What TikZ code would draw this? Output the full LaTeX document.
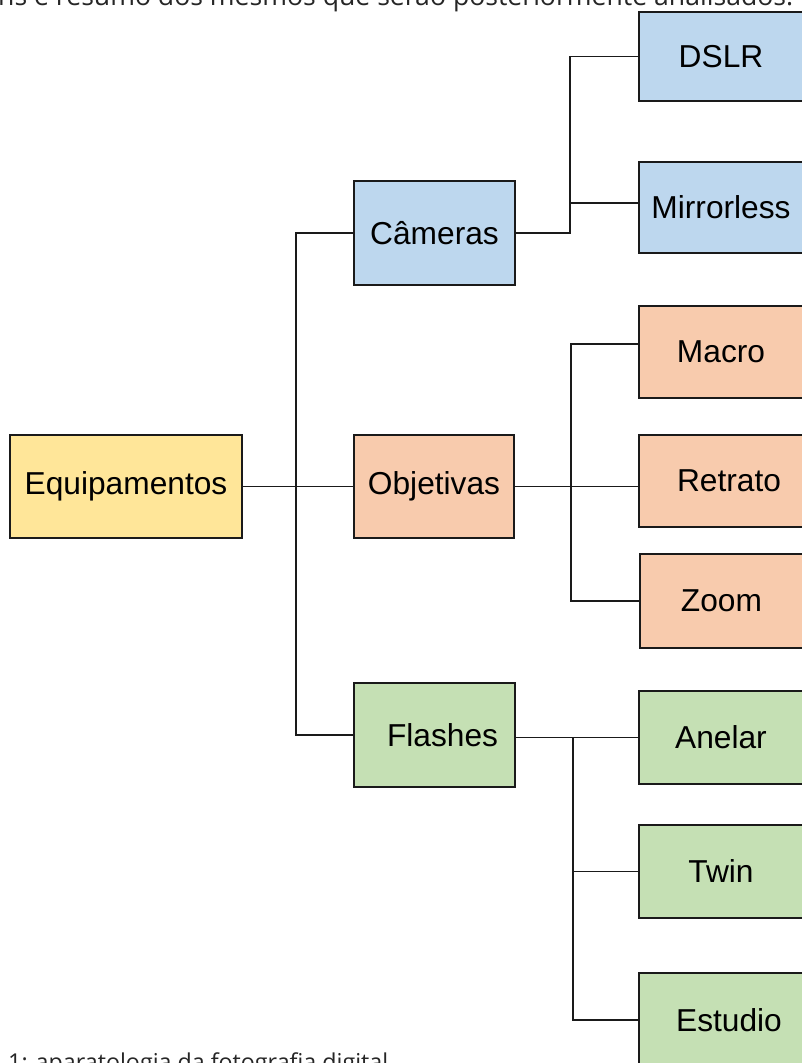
\documentclass[tikz,border=0pt]{standalone}
\usepackage{fontspec}
\setmainfont{Liberation Sans}
\newfontfamily\bodyfont{Open Sans}
\definecolor{cblue}{HTML}{BDD7EE}
\definecolor{corange}{HTML}{F8CBAD}
\definecolor{cgreen}{HTML}{C5E0B4}
\definecolor{cyellow}{HTML}{FFE699}
\definecolor{cline}{HTML}{1A1A1A}
\tikzset{
  box/.style={draw=cline, line width=1.3pt, rectangle, inner sep=0pt,
    font=\fontsize{31.7}{38}\selectfont, text=black},
  leftbox/.style={box, minimum width=161pt, minimum height=104pt},
  rightbox/.style={box, minimum width=164pt},
  conn/.style={draw=cline, line width=1.3pt},
}
\begin{document}
\begin{tikzpicture}[x=1pt,y=-1pt]
\useasboundingbox (0,0) rectangle (802,1063);
\clip (0,0) rectangle (802,1063);
\fill[white] (0,0) rectangle (802,1063);

% clipped body text
\node[anchor=base west, inner sep=0pt, text=black!85] (toptext) at (-2,5)
  {\resizebox{795pt}{!}{\bodyfont ns e resumo dos mesmos que serão posteriormente analisados.}};
\node[anchor=base west, inner sep=0pt, text=black!85] (bottext) at (8,1070)
  {\resizebox{380pt}{!}{\bodyfont 1: aparatologia da fotografia digital}};

% boxes
\node[box, fill=cyellow, minimum width=232pt, minimum height=103pt] (eq) at (126,486.5) {\raisebox{-2pt}{Equipamentos}};
\node[leftbox, fill=cblue] (cam) at (434.5,233) {\raisebox{-2pt}{Câmeras}};
\node[leftbox, fill=corange, minimum height=103pt, minimum width=160pt] (obj) at (434,486.5) {\raisebox{-2pt}{Objetivas}};
\node[leftbox, fill=cgreen] (fla) at (434.5,735) {\hspace{16pt}Flashes};

\node[rightbox, fill=cblue, minimum height=89pt] (dslr) at (721,56.5) {DSLR};
\node[rightbox, fill=cblue, minimum height=91pt] (mir) at (721,207.5) {Mirrorless};
\node[rightbox, fill=corange, minimum height=92pt] (mac) at (721,352) {\raisebox{-2pt}{Macro}};
\node[rightbox, fill=corange, minimum height=92pt] (ret) at (721,481) {\hspace{16pt}Retrato};
\node[rightbox, fill=corange, minimum height=94pt, minimum width=163pt] (zoo) at (721.5,601) {Zoom};
\node[rightbox, fill=cgreen, minimum height=93pt] (ane) at (721,737.5) {Anelar};
\node[rightbox, fill=cgreen, minimum height=93pt] (twi) at (721,871.5) {Twin\hspace{8pt}};
\node[rightbox, fill=cgreen, minimum height=94pt] (est) at (721,1020) {\hspace{16pt}Estudio};

% helper coordinates
\coordinate (tr) at (296,0);
\coordinate (cv) at (570,0);
\coordinate (ov) at (571,0);
\coordinate (fv) at (573,0);
\coordinate (mirin) at ([yshift=4.5pt]mir.west);
\coordinate (macin) at ([yshift=8pt]mac.west);
\coordinate (retin) at (ret.west |- obj.east);

% trunk
\draw[conn] (cam.west) -- (tr |- cam.west) -- (tr |- fla.west) -- (fla.west);
\draw[conn] (eq.east) -- (obj.west);

% cameras
\draw[conn] (cam.east) -- (cv |- cam.east) |- (dslr.west);
\draw[conn] (cv |- mirin) -- (mirin);

% objetivas
\draw[conn] (obj.east) -- (retin);
\draw[conn] (macin) -- (ov |- macin) -- (ov |- zoo.west) -- (zoo.west);

% flashes
\draw[conn] (fla.east |- ane.west) -- (ane.west);
\draw[conn] (fv |- ane.west) -- (fv |- est.west) -- (est.west);
\draw[conn] (fv |- twi.west) -- (twi.west);
\end{tikzpicture}
\end{document}
